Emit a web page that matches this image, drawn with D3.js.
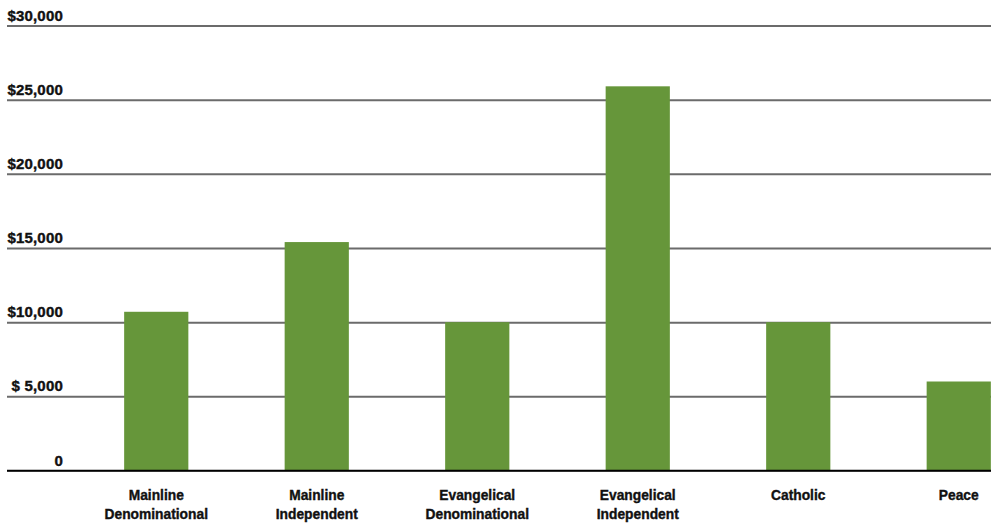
<!DOCTYPE html>
<html>
<head>
<meta charset="utf-8">
<script src="https://cdn.jsdelivr.net/npm/d3@7"></script>
<style>
  html, body { margin: 0; padding: 0; background: #fff; }
  svg { display: block; }
  .lbl { font-family: "Liberation Sans", Arial, sans-serif; font-weight: bold; fill: #111; stroke: #111; stroke-width: 0.4px; }
</style>
</head>
<body>
<svg id="chart" width="991" height="526"></svg>
<script>
// Average gift per denomination group
const categories = [
  ["Mainline", "Denominational"],
  ["Mainline", "Independent"],
  ["Evangelical", "Denominational"],
  ["Evangelical", "Independent"],
  ["Catholic"],
  ["Peace"]
];
const values = [10700, 15400, 10000, 25900, 10000, 6000];
const tickValues = [0, 5000, 10000, 15000, 20000, 25000, 30000];
const tickLabels = ["0", "$ 5,000", "$10,000", "$15,000", "$20,000", "$25,000", "$30,000"];

const W = 991, H = 526;
const svg = d3.select("#chart");
const keys = categories.map(c => c.join(" "));

const x = d3.scaleBand().domain(keys).range([76, 1039]).paddingInner(0.6).paddingOuter(0.3);
const y = d3.scaleLinear().domain([0, 30000]).range([470.5, 25.5]);

// Horizontal gridlines with dollar labels
const yAxis = d3.axisRight(y)
  .tickValues(tickValues)
  .tickFormat((d, i) => tickLabels[i])
  .tickSize(W - 7);
const gy = svg.append("g").attr("transform", "translate(7,0)").call(yAxis);
gy.select(".domain").remove();
gy.selectAll(".tick line")
  .attr("stroke", d => d === 0 ? "#000" : "#6b6b6b")
  .attr("stroke-width", d => d === 0 ? 1.6 : 2);
gy.selectAll(".tick text")
  .attr("class", "lbl")
  .attr("x", 56)
  .attr("y", -5.5)
  .attr("dy", 0)
  .attr("text-anchor", "end")
  .style("font-size", "15px")
  .style("letter-spacing", "0.2px");

// Bars
svg.append("g").selectAll("rect")
  .data(values)
  .join("rect")
  .attr("x", (d, i) => x(keys[i]))
  .attr("width", x.bandwidth())
  .attr("y", d => y(d))
  .attr("height", d => y(0) - y(d))
  .attr("fill", "#66963a");

// Re-draw the baseline above the bars
svg.append("line")
  .attr("x1", 7).attr("x2", W)
  .attr("y1", y(0)).attr("y2", y(0))
  .attr("stroke", "#000").attr("stroke-width", 1.6);

// Category labels, slightly condensed
const xAxis = d3.axisBottom(x).tickSize(0).tickFormat("");
const gx = svg.append("g").attr("transform", `translate(0,${y(0)})`).call(xAxis);
gx.select(".domain").remove();
gx.selectAll(".tick").each(function(d, i) {
  const t = d3.select(this).append("text")
    .attr("class", "lbl")
    .attr("text-anchor", "middle")
    .attr("transform", "scale(0.92,1)")
    .style("font-size", "15px");
  categories[i].forEach((line, j) => {
    t.append("tspan").attr("x", 0).attr("y", 30 + j * 19).text(line);
  });
});
</script>
</body>
</html>
